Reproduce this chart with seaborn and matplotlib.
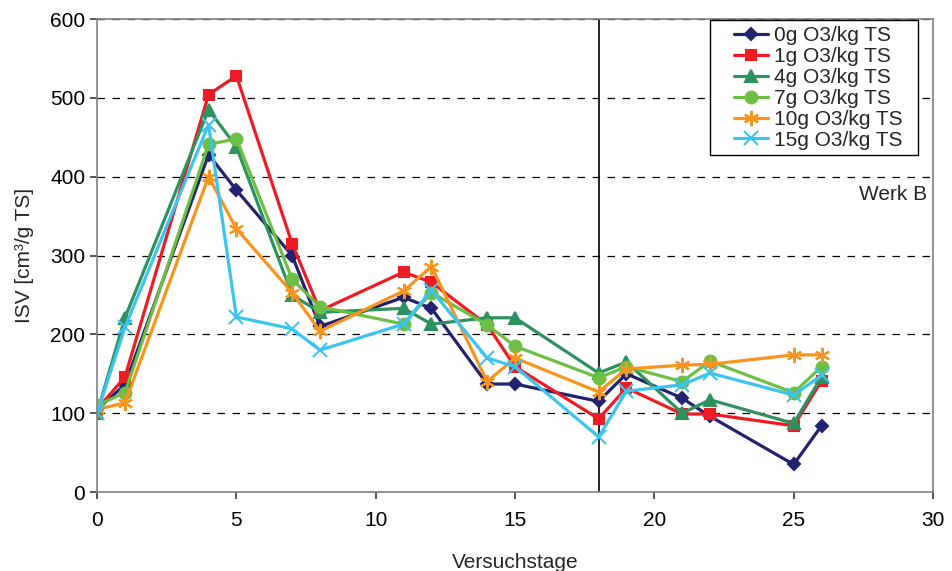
import matplotlib
matplotlib.use("Agg")
import matplotlib.pyplot as plt
from matplotlib.patches import Rectangle
import seaborn as sns
import pandas as pd

days = [0, 1, 4, 5, 7, 8, 11, 12, 14, 15, 18, 19, 21, 22, 25, 26]
s_0g = [105, 136, 428, 383, 300, 210, 247, 233, 137, 137, 115, 150, 119, 96, 35, 84]
s_1g = [105, 146, 504, 528, 315, 230, 279, 266, 212, 159, 93, 132, 99, 99, 84, 141]
s_4g = [100, 221, 485, 438, 250, 228, 233, 213, 221, 221, 151, 165, 100, 117, 87, 146]
s_7g = [110, 126, 441, 448, 270, 235, 213, 253, 212, 185, 145, 159, 140, 166, 126, 159]
s_10g = [105, 113, 400, 334, 253, 204, 255, 286, 140, 170, 127, 156, 161, 162, 174, 174]
s_15g = [100, 209, 466, 222, 207, 180, 213, 256, 170, 159, 70, 128, 136, 151, 123, 148]

labels = ["0g O3/kg TS", "1g O3/kg TS", "4g O3/kg TS", "7g O3/kg TS",
          "10g O3/kg TS", "15g O3/kg TS"]
series = [s_0g, s_1g, s_4g, s_7g, s_10g, s_15g]
colors = ["#22226E", "#ED1C24", "#2E9160", "#6CBE45", "#F7941D", "#3CC4EE"]
markers = ["D", "s", "^", "o", (6, 2, 0), "x"]
msizes = [6, 7.5, 8.5, 8.5, 11, 10]

rows = []
for lab, vals in zip(labels, series):
    for d, v in zip(days, vals):
        rows.append({"Versuchstage": d, "ISV": v, "Serie": lab})
df = pd.DataFrame(rows)

sns.set_theme(style="white")
plt.rcParams["font.family"] = ["Liberation Sans", "DejaVu Sans"]

fig = plt.figure(figsize=(9.52, 5.71), dpi=100)
ax = fig.add_axes([0.102, 0.1383, 0.878, 0.8284])

for lab, c, m, ms in zip(labels, colors, markers, msizes):
    sub = df[df["Serie"] == lab]
    sns.lineplot(data=sub, x="Versuchstage", y="ISV", ax=ax, color=c,
                 marker=m, markersize=ms, linewidth=2.3, label=lab,
                 markeredgecolor=c, markeredgewidth=1.5, sort=False,
                 estimator=None)

ax.set_xlim(0, 30)
ax.set_ylim(0, 600)
ax.set_xticks([0, 5, 10, 15, 20, 25, 30])
ax.set_yticks([0, 100, 200, 300, 400, 500, 600])
for yv in [100, 200, 300, 400, 500, 600]:
    ax.axhline(yv, color="black", linestyle=(0, (6, 6)), linewidth=0.9, zorder=0.5)
ax.axvline(18, color="black", linewidth=1.2, zorder=0.6)

for sp in ax.spines.values():
    sp.set_color("#808080")
    sp.set_linewidth(1.2)

ax.tick_params(axis="both", which="both", direction="out", length=5,
               color="#404040", labelsize=15, colors="black", bottom=True, left=True)
ax.tick_params(axis="x", pad=9)
ax.set_xlabel("Versuchstage", fontsize=15, labelpad=16)
ax.set_ylabel("ISV [cm³/g TS]", fontsize=15, labelpad=12)

ax.text(29.8, 378, "Werk B", fontsize=15, ha="right", va="center")

# legend box (frame drawn separately to match the wide left padding)
ax.add_patch(Rectangle((0.733, 0.7125), 0.249, 0.2855, transform=ax.transAxes,
                       facecolor="white", edgecolor="black", linewidth=1.0,
                       zorder=4.5, clip_on=False))
leg = ax.legend(loc="upper right", bbox_to_anchor=(0.9725, 1.0), fontsize=15,
                frameon=False, borderpad=0.35, labelspacing=0.09,
                handlelength=1.6, handletextpad=0.3, borderaxespad=0.0,
                markerfirst=True)
leg.set_zorder(5)
leg._legend_box.align = "right"
for t in leg.get_texts():
    t.set_ha("right")

fig.savefig("out.png", dpi=100)
